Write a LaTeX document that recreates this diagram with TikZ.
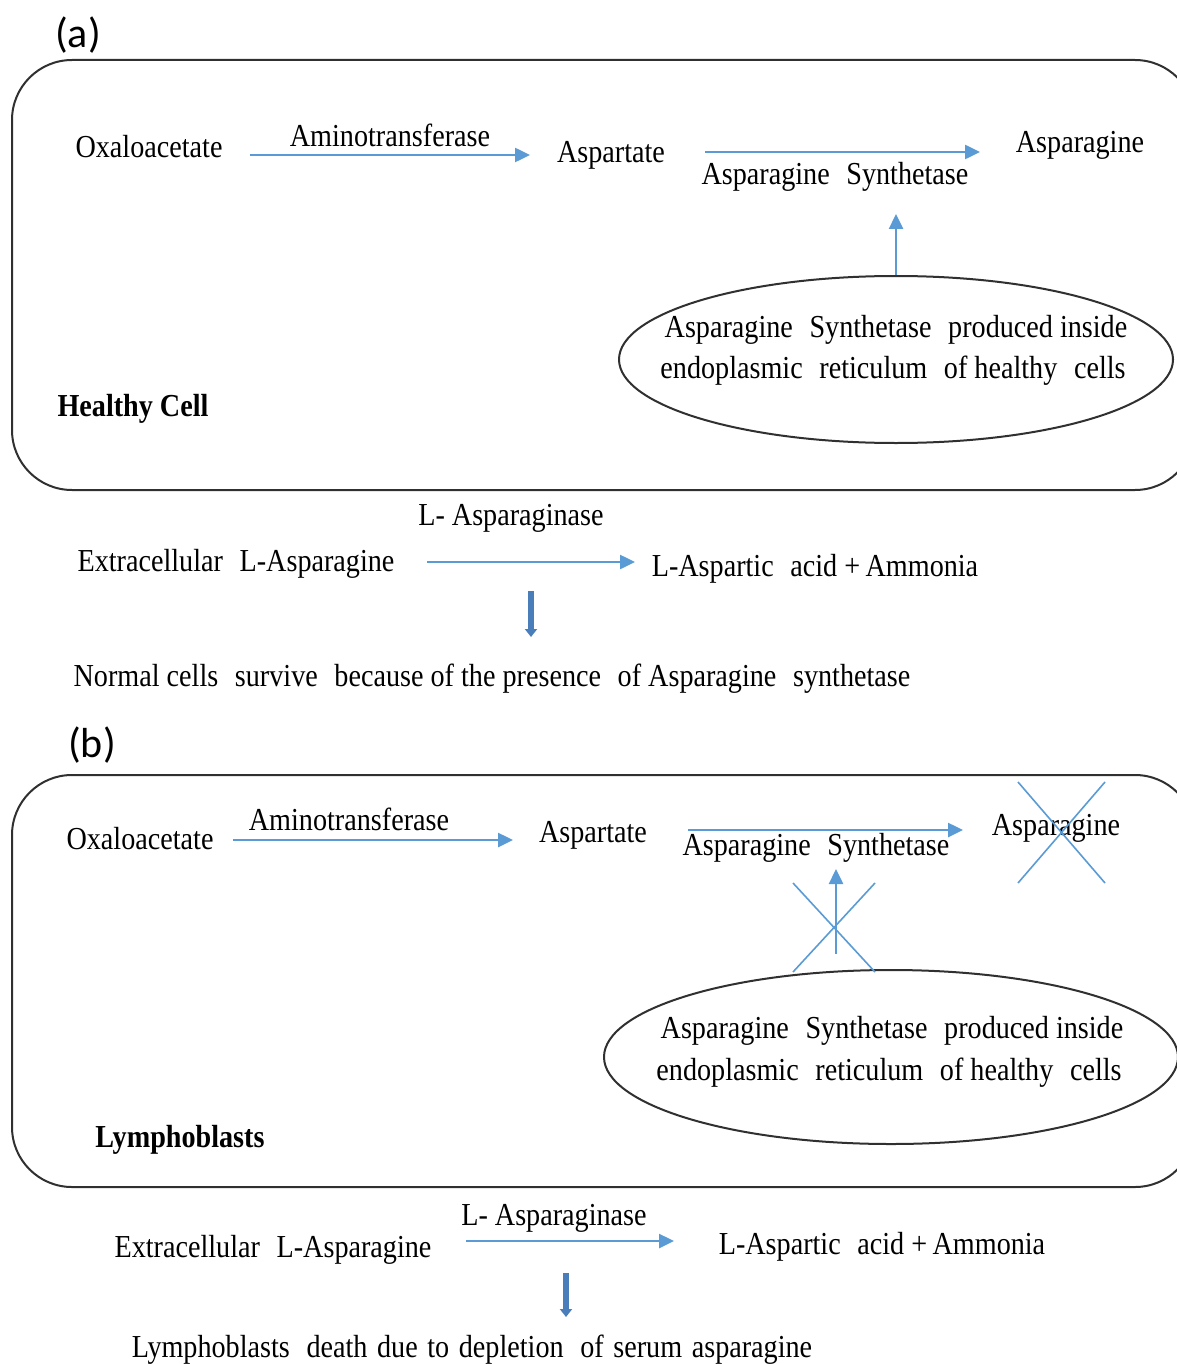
\documentclass[tikz,border=0pt]{standalone}
\usepackage{fontspec}
\setmainfont{Liberation Serif}[FakeStretch=0.88]
\newfontfamily\labfont{Carlito}
\usetikzlibrary{arrows.meta,shapes.geometric,calc}
\definecolor{lblue}{HTML}{5B9BD5}
\definecolor{dblue}{HTML}{4A7EBB}
\definecolor{boxline}{HTML}{303030}
\newcommand{\dsp}{\hspace{0.52em}}
\begin{document}
\begin{tikzpicture}[x=1pt,y=-1pt,
  txt/.style={font=\fontsize{32}{41}\selectfont, inner sep=0pt, anchor=base},
  btxt/.style={font=\fontsize{32}{41}\selectfont\bfseries, inner sep=0pt, anchor=base},
  lab/.style={font=\labfont\fontsize{42}{50}\selectfont, inner sep=0pt, anchor=base},
  cellbox/.style={draw=boxline, line width=2pt, rounded corners=60pt, inner sep=0pt},
  ellbox/.style={draw=boxline, line width=2pt, ellipse, inner sep=0pt},
  larr/.style={draw=lblue, line width=2.5pt, -{Triangle[length=15pt,width=14pt]}},
  darr/.style={draw=dblue, line width=5.5pt, -{Triangle[length=8pt,width=12pt]}},
  crossline/.style={draw=lblue, line width=1.6pt}]
\useasboundingbox (0,0) rectangle (1176,1364);

% ---------------- panel (a) ----------------
\node[lab] (labA) at (78,48) {(a)};
\node[cellbox, minimum width=1183pt, minimum height=430pt] (cellA) at (603.5,275) {};
\node[txt] (oxaA) at (149,158) {Oxaloacetate};
\node[txt] (amiA) at (390,147) {Aminotransferase};
\node[txt] (asptA) at (611,163) {Aspartate};
\node[txt] (asnA) at (1080,153) {Asparagine};
\node[txt] (synA) at (835,185) {Asparagine\dsp Synthetase};
\node[ellbox, minimum width=554pt, minimum height=167pt] (ellA) at (896,359.5) {};
\node[txt] (ellA1) at (896,337) {Asparagine\dsp Synthetase\dsp produced inside};
\node[txt] (ellA2) at (893,378) {endoplasmic\dsp reticulum\dsp of healthy\dsp cells};
\node[btxt] (healthy) at (133,416) {Healthy Cell};

\draw[larr] ($(oxaA.base)+(101,-3)$) -- ($(asptA.base)+(-81,-8)$);
\draw[larr] ($(asptA.base)+(94,-11)$) -- ($(asnA.base)+(-100,-1)$);
\draw[larr] (ellA.north) -- ++(0,-61);

\node[txt] (aseA) at (511,525) {L- Asparaginase};
\node[txt] (extA) at (236,571) {Extracellular\dsp L-Asparagine};
\node[txt] (prodA) at (815,576) {L-Aspartic\dsp acid +\,Ammonia};
\node[txt] (normA) at (492,686) {Normal cells\dsp survive\dsp because of the presence\dsp of Asparagine\dsp synthetase};
\draw[larr] ($(extA.base)+(191,-9)$) -- ($(prodA.base)+(-180,-14)$);
\coordinate (dA) at (531,591);
\draw[darr] (dA) -- ++(0,46);

% ---------------- panel (b) ----------------
\node[lab] (labB) at (92,757) {(b)};
\node[cellbox, minimum width=1183pt, minimum height=412pt] (cellB) at (603.5,981) {};
\node[txt] (oxaB) at (140,849) {Oxaloacetate};
\node[txt] (amiB) at (349,830) {Aminotransferase};
\node[txt] (asptB) at (593,842) {Aspartate};
\node[txt] (asnB) at (1056,835) {Asparagine};
\node[txt] (synB) at (816,855) {Asparagine\dsp Synthetase};
\node[ellbox, minimum width=574pt, minimum height=174pt] (ellB) at (891,1057) {};
\node[txt] (ellB1) at (892,1038) {Asparagine\dsp Synthetase\dsp produced inside};
\node[txt] (ellB2) at (889,1080) {endoplasmic\dsp reticulum\dsp of healthy\dsp cells};
\node[btxt] (lympho) at (180,1147) {Lymphoblasts};

\draw[larr] ($(oxaB.base)+(93,-9)$) -- ($(asptB.base)+(-80,-2)$);
\draw[larr] ($(asptB.base)+(95,-12)$) -- ($(asnB.base)+(-93,-5)$);
\coordinate (upB) at ($(ellB.north)+(-55,-15)$);
\draw[larr] (upB) -- ++(0,-85);

% crosses
\coordinate (xB1) at (834,927.5);
\draw[crossline] ($(xB1)+(-41,-44.5)$) -- ($(xB1)+(41,44.5)$);
\draw[crossline] ($(xB1)+(41,-44.5)$) -- ($(xB1)+(-41,44.5)$);
\coordinate (xB2) at ($(asnB.base)+(5.5,-2.5)$);
\draw[crossline] ($(xB2)+(-43.5,-50.5)$) -- ($(xB2)+(43.5,50.5)$);
\draw[crossline] ($(xB2)+(43.5,-50.5)$) -- ($(xB2)+(-43.5,50.5)$);

\node[txt] (aseB) at (554,1225) {L- Asparaginase};
\node[txt] (extB) at (273,1257) {Extracellular\dsp L-Asparagine};
\node[txt] (prodB) at (882,1254) {L-Aspartic\dsp acid +\,Ammonia};
\node[txt] (deathB) at (472,1357) {Lymphoblasts\dsp death\hspace{0.3em}due\hspace{0.3em}to\hspace{0.3em}depletion\dsp of\hspace{0.3em}serum\hspace{0.3em}asparagine};
\draw[larr] ($(extB.base)+(193,-16)$) -- ($(prodB.base)+(-208,-13)$);
\coordinate (dB) at (566,1273);
\draw[darr] (dB) -- ++(0,44);
\end{tikzpicture}
\end{document}
